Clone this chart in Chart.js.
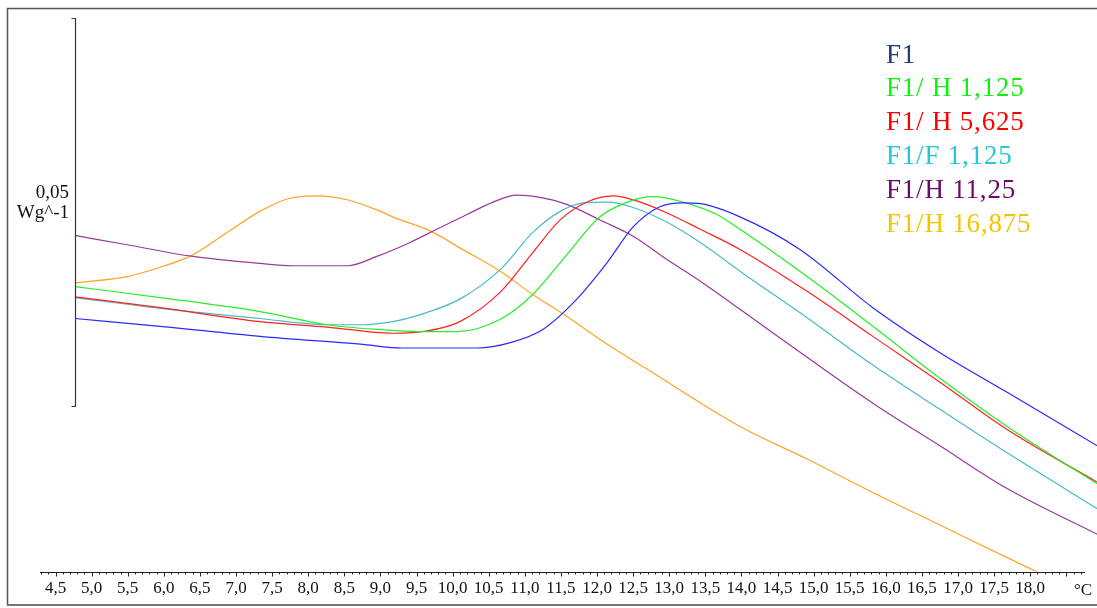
<!DOCTYPE html>
<html>
<head>
<meta charset="utf-8">
<script src="https://cdn.jsdelivr.net/npm/chart.js@4.4.1/dist/chart.umd.min.js"></script>
<style>
  html, body { margin: 0; padding: 0; background: #fff; }
  #wrap { width: 1097px; height: 608px; position: relative; }
</style>
</head>
<body>
<div id="wrap"><canvas id="dsc" width="1097" height="608"></canvas></div>
<script>
// Temperature tick labels (°C), decimal comma
const tickLabels = ['4,5','5,0','5,5','6,0','6,5','7,0','7,5','8,0','8,5','9,0','9,5',
  '10,0','10,5','11,0','11,5','12,0','12,5','13,0','13,5','14,0','14,5','15,0','15,5',
  '16,0','16,5','17,0','17,5','18,0'];

// Series names
const seriesNames = ['F1', 'F1/ H 1,125', 'F1/ H 5,625', 'F1/F 1,125', 'F1/H 11,25', 'F1/H 16,875'];

// Heat flow curves: temperature (°C) and heat flow (W/g)
const f1Temp = [4.77,5.95,7.33,8.72,9.31,10.10,10.34,10.80,11.25,11.72,12.14,12.50,12.87,13.19,13.43,13.98,14.81,15.82,16.75,17.68,18.93];
const f1Flow = [0.0113,0.0103,0.0090,0.0080,0.0075,0.0075,0.0075,0.0082,0.0099,0.0138,0.0185,0.0231,0.0257,0.0262,0.0261,0.0244,0.0202,0.0127,0.0069,0.0018,-0.0051];

const h1125Temp = [4.77,5.95,7.33,8.26,8.95,9.65,10.06,10.66,11.11,11.58,12.04,12.42,12.78,13.19,13.66,13.98,14.91,15.82,16.75,17.68,18.93];
const h1125Flow = [0.0154,0.0140,0.0122,0.0105,0.0099,0.0096,0.0096,0.0112,0.0144,0.0195,0.0244,0.0263,0.0270,0.0263,0.0247,0.0228,0.0167,0.0103,0.0036,-0.0026,-0.0100];

const h5625Temp = [4.77,5.95,7.33,8.26,9.17,9.65,10.10,10.66,11.11,11.49,11.86,12.22,12.60,12.97,13.43,13.98,14.91,15.82,16.75,17.68,18.93];
const h5625Flow = [0.0141,0.0127,0.0109,0.0102,0.0094,0.0097,0.0109,0.0147,0.0198,0.0240,0.0263,0.0271,0.0263,0.0249,0.0228,0.0202,0.0148,0.0090,0.0031,-0.0030,-0.0098];

const f1125Temp = [4.77,5.95,7.33,8.26,8.72,9.17,9.65,10.10,10.66,11.11,11.49,11.81,12.14,12.50,12.97,13.43,13.98,14.91,15.82,16.75,17.68,18.93];
const f1125Flow = [0.0140,0.0126,0.0113,0.0105,0.0105,0.0109,0.0121,0.0138,0.0176,0.0224,0.0251,0.0262,0.0263,0.0256,0.0237,0.0211,0.0174,0.0114,0.0053,-0.0004,-0.0060,-0.0132];

const h1125bTemp = [4.77,5.49,6.40,7.33,7.79,8.54,8.95,9.41,9.78,10.20,10.56,10.89,11.21,11.58,12.04,12.50,12.97,13.43,13.98,14.91,15.82,16.75,17.68,18.93];
const h1125bFlow = [0.0220,0.0208,0.0193,0.0184,0.0181,0.0181,0.0193,0.0211,0.0228,0.0247,0.0263,0.0272,0.0269,0.0260,0.0240,0.0219,0.0189,0.0161,0.0125,0.0063,0.0004,-0.0051,-0.0106,-0.0165];

const h16875Temp = [4.77,5.49,5.95,6.40,6.88,7.33,7.71,8.12,8.54,8.95,9.17,9.73,10.10,10.66,11.11,11.58,12.04,12.69,13.98,14.91,15.82,16.75,17.68,18.93];
const h16875Flow = [0.0159,0.0167,0.0179,0.0195,0.0224,0.0251,0.0267,0.0271,0.0266,0.0253,0.0244,0.0224,0.0204,0.0174,0.0144,0.0116,0.0086,0.0048,-0.0026,-0.0068,-0.0111,-0.0153,-0.0195,-0.0250];

const lineColors = ['#2a2aff', '#26ee26', '#ff2020', '#48bcc4', '#9a3a9a', '#ffa424'];
const legendColors = ['#1f3f72', '#12f012', '#ff0000', '#22c8d8', '#6a0a6a', '#f4c400'];

const seriesTemps = [f1Temp, h1125Temp, h5625Temp, f1125Temp, h1125bTemp, h16875Temp];
const seriesFlows = [f1Flow, h1125Flow, h5625Flow, f1125Flow, h1125bFlow, h16875Flow];

// Axis ranges and scale-bar settings
const X_MIN = 4.285, X_MAX = 18.925;
const AXIS_FROM = 4.285, AXIS_TO = 18.76;
const Y_MIN = -0.0213, Y_MAX = 0.0513;
const BAR_AT = 4.77, BAR_LOW = 0, BAR_HIGH = 0.05;

const SERIF = "'Liberation Serif', 'Times New Roman', serif";
const tickValues = tickLabels.map(s => parseFloat(s.replace(',', '.')));

const datasets = seriesNames.map((name, i) => ({
  label: name,
  data: seriesTemps[i].map((t, k) => ({ x: t, y: seriesFlows[i][k] })),
  borderColor: lineColors[i],
  borderWidth: 1.2,
  pointRadius: 0,
  fill: false,
  cubicInterpolationMode: 'monotone'
}));

const decor = {
  id: 'decor',
  afterDraw(chart) {
    const { ctx, chartArea, scales: { x, y } } = chart;
    ctx.save();

    // outer frame
    ctx.strokeStyle = '#555';
    ctx.lineWidth = 1.5;
    ctx.beginPath();
    ctx.moveTo(7.5, 606); ctx.lineTo(7.5, 8.5); ctx.lineTo(1097, 8.5);
    ctx.stroke();
    ctx.strokeStyle = '#777';
    ctx.lineWidth = 2;
    ctx.beginPath();
    ctx.moveTo(7, 605); ctx.lineTo(1097, 605);
    ctx.stroke();

    // temperature axis line with minor / major ticks
    const yb = Math.round(chartArea.bottom) + 0.5;
    ctx.strokeStyle = '#222';
    ctx.lineWidth = 1;
    ctx.beginPath();
    ctx.moveTo(x.getPixelForValue(AXIS_FROM), yb);
    ctx.lineTo(x.getPixelForValue(AXIS_TO), yb);
    for (let k = Math.ceil(AXIS_FROM * 10); k <= Math.floor(AXIS_TO * 10); k++) {
      const px = Math.round(x.getPixelForValue(k / 10)) + 0.5;
      const len = (k % 5 === 0) ? 4 : 2;
      ctx.moveTo(px, yb);
      ctx.lineTo(px, yb + len);
    }
    ctx.stroke();

    // unit at the end of the temperature axis
    ctx.fillStyle = '#111';
    ctx.font = '17px ' + SERIF;
    ctx.textAlign = 'left';
    ctx.textBaseline = 'alphabetic';
    ctx.fillText('°C', 1074, 595);

    // heat flow scale bar
    const bx = Math.round(x.getPixelForValue(BAR_AT)) + 0.5;
    const yTop = Math.round(y.getPixelForValue(BAR_HIGH)) + 0.5;
    const yBot = Math.round(y.getPixelForValue(BAR_LOW)) + 0.5;
    ctx.strokeStyle = '#333';
    ctx.lineWidth = 1.2;
    ctx.beginPath();
    ctx.moveTo(bx - 4, yTop); ctx.lineTo(bx, yTop); ctx.lineTo(bx, yBot); ctx.lineTo(bx - 4, yBot);
    ctx.stroke();
    ctx.fillStyle = '#111';
    ctx.font = '19px ' + SERIF;
    ctx.textAlign = 'right';
    ctx.fillText('0,05', 69, 198);
    ctx.fillText('Wg^-1', 69, 218);

    // legend
    ctx.font = '27px ' + SERIF;
    ctx.textAlign = 'left';
    if ('letterSpacing' in ctx) ctx.letterSpacing = '0.8px';
    const baselines = [63, 96, 130, 164, 198, 232];
    seriesNames.forEach((name, i) => {
      ctx.fillStyle = legendColors[i];
      ctx.fillText(name, 886, baselines[i]);
    });
    ctx.restore();
  }
};

new Chart(document.getElementById('dsc'), {
  type: 'line',
  data: { datasets },
  plugins: [decor],
  options: {
    responsive: false,
    animation: false,
    events: [],
    layout: { padding: { left: 40, top: 8, right: 0, bottom: 2 } },
    plugins: { legend: { display: false }, tooltip: { enabled: false } },
    scales: {
      x: {
        type: 'linear',
        min: X_MIN,
        max: X_MAX,
        border: { display: false },
        grid: { display: false, drawTicks: false },
        afterBuildTicks: scale => { scale.ticks = tickValues.map(v => ({ value: v })); },
        ticks: {
          autoSkip: false,
          maxRotation: 0,
          padding: 7,
          color: '#111',
          font: { family: SERIF, size: 17 },
          callback: (value, index) => tickLabels[index]
        }
      },
      y: {
        type: 'linear',
        display: false,
        min: Y_MIN,
        max: Y_MAX
      }
    }
  }
});
</script>
</body>
</html>
